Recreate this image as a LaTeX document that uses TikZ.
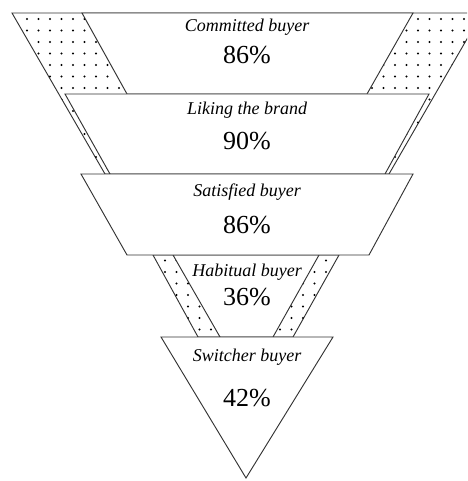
\documentclass[tikz,border=0pt]{standalone}
\usepackage{fontspec}
\setmainfont{Liberation Serif}
\begin{document}
\begin{tikzpicture}[x=0.75pt,y=-0.75pt,
    lvl/.style={draw=black!80,line width=0.7pt,fill=white},
    band/.style={draw=black!80,line width=0.7pt},
    dot/.style={fill=black},
    lab/.style={anchor=base,font=\fontsize{13.5}{16}\selectfont\itshape},
    pct/.style={anchor=base,font=\fontsize{19.5}{22}\selectfont}]
  \clip (0,0) rectangle (467,481);
  % dotted band behind the two top levels
  \draw[band] (12,13) -- (482,13) -- (389,174) -- (105,174) -- cycle;
  \begin{scope}
    \clip (12,13) -- (482,13) -- (389,174) -- (105,174) -- cycle;
    \foreach \i in {0,...,39}{ \foreach \j in {0,...,14}{
      \fill[dot] ({27+11.5*\i},{19+11.5*\j}) circle (0.8pt); } }
  \end{scope}
  \draw[lvl] (82,13) -- (413,13) -- (367,94) -- (127,94) -- cycle;
  \draw[lvl] (65,94) -- (429,94) -- (385,174) -- (110,174) -- cycle;
  % dotted band round the habitual level
  \draw[band] (153,255) -- (339,255) -- (293,337) -- (198,337) -- cycle;
  \begin{scope}
    \clip (153,255) -- (339,255) -- (293,337) -- (198,337) -- cycle;
    \foreach \i in {10,...,28}{ \foreach \j in {20,...,28}{
      \fill[dot] ({27+11.5*\i},{19+11.5*\j}) circle (0.8pt); } }
  \end{scope}
  \draw[lvl] (173,255) -- (319,255) -- (273,337) -- (220,337) -- cycle;
  \draw[lvl] (81,174) -- (413,174) -- (369,255) -- (127,255) -- cycle;
  \draw[lvl] (161,337) -- (333,337) -- (246,478) -- cycle;
  % labels
  \node[lab] (committed) at (247,32) {Committed buyer};
  \node[pct] (committedv) at (247,64) {86\%};
  \node[lab] (liking) at (247,115) {Liking the brand};
  \node[pct] (likingv) at (247,150) {90\%};
  \node[lab] (satisfied) at (247,196) {Satisfied buyer};
  \node[pct] (satisfiedv) at (247,233) {86\%};
  \node[lab] (habitual) at (247,276) {Habitual buyer};
  \node[pct] (habitualv) at (247,305) {36\%};
  \node[lab] (switcher) at (247,361) {Switcher buyer};
  \node[pct] (switcherv) at (247,406) {42\%};
\end{tikzpicture}
\end{document}
